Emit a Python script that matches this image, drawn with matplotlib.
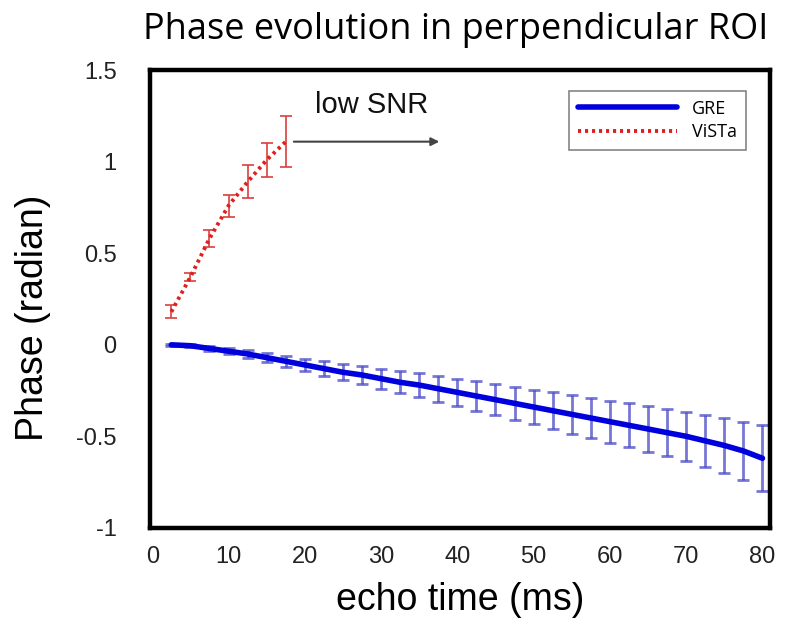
import numpy as np
import matplotlib
matplotlib.use("Agg")
import matplotlib.pyplot as plt

# GRE echoes
gre_te = [2.5, 5, 7.5, 10, 12.5, 15, 17.5, 20, 22.5, 25, 27.5, 30, 32.5, 35, 37.5, 40,
          42.5, 45, 47.5, 50, 52.5, 55, 57.5, 60, 62.5, 65, 67.5, 70, 72.5, 75, 77.5, 80]
gre_phase = [0.0, -0.005, -0.02, -0.035, -0.05, -0.07, -0.09, -0.11, -0.13, -0.15, -0.165, -0.185,
             -0.205, -0.22, -0.24, -0.26, -0.28, -0.30, -0.32, -0.34, -0.36, -0.38, -0.40, -0.42,
             -0.44, -0.46, -0.48, -0.50, -0.525, -0.55, -0.58, -0.62]
gre_err = [0.005, 0.008, 0.012, 0.015, 0.02, 0.025, 0.03, 0.035, 0.04, 0.045, 0.05, 0.055,
           0.06, 0.065, 0.07, 0.075, 0.08, 0.085, 0.09, 0.095, 0.10, 0.105, 0.11, 0.115,
           0.12, 0.125, 0.13, 0.135, 0.14, 0.15, 0.16, 0.18]

# ViSTa echoes
vista_te = [2.5, 5, 7.5, 10, 12.5, 15, 17.5]
vista_phase = [0.18, 0.37, 0.58, 0.76, 0.89, 1.01, 1.11]
vista_err = [0.035, 0.02, 0.045, 0.06, 0.09, 0.095, 0.14]

fig = plt.figure(figsize=(7.85, 6.39), dpi=100)
ax = fig.add_axes([0.191, 0.174, 0.790, 0.716])

ax.errorbar(gre_te, gre_phase, yerr=gre_err, fmt="none", ecolor="#4a4ac8",
            elinewidth=2, capsize=4, capthick=2, alpha=0.75)
ax.plot(gre_te, gre_phase, color="#0000dd", lw=4, label="GRE", solid_capstyle="round")

ax.errorbar(vista_te, vista_phase, yerr=vista_err, fmt="none", ecolor="#d94040",
            elinewidth=1.2, capsize=4, capthick=1.2)
ax.plot(vista_te, vista_phase, color="#e02020", lw=2.8, ls=(0, (0.8, 1.0)), label="ViSTa")

ax.annotate("", xy=(38, 1.11), xytext=(18.2, 1.11),
            arrowprops=dict(arrowstyle="-|>", color="#444444", lw=1.5, mutation_scale=12))
ax.text(28.8, 1.31, "low SNR", fontsize=21, ha="center", va="center",
        family="Liberation Sans", color="#111111")

ax.set_xlim(-0.3, 81)
ax.set_ylim(-1, 1.5)
ax.set_xticks(np.arange(0, 81, 10))
ax.set_yticks([-1, -0.5, 0, 0.5, 1, 1.5])
ax.set_yticklabels(["-1", "-0.5", "0", "0.5", "1", "1.5"])
ax.tick_params(length=0, labelsize=17, pad=13)
ax.tick_params(axis="y", pad=24)
for lab in ax.get_xticklabels() + ax.get_yticklabels():
    lab.set_family("Liberation Sans")
    lab.set_color("#222222")
for s in ax.spines.values():
    s.set_linewidth(3.2)
    s.set_color("black")

ax.set_xlabel("echo time (ms)", fontsize=27, family="Liberation Sans", labelpad=10)
ax.set_ylabel("Phase (radian)", fontsize=27, family="Liberation Sans")
ax.yaxis.set_label_coords(-0.16, 0.46)
fig.text(0.58, 0.953, "Phase evolution in perpendicular ROI", fontsize=26,
         family="Open Sans", ha="center", va="center")

leg = ax.legend(loc="upper right", bbox_to_anchor=(0.975, 0.975),
                prop={"family": "Open Sans", "size": 13}, handlelength=5.5,
                borderpad=0.5, labelspacing=0.3, fancybox=False)
leg.get_frame().set_edgecolor("#666666")
leg.get_frame().set_linewidth(1.2)

fig.savefig("out.png", dpi=100)
